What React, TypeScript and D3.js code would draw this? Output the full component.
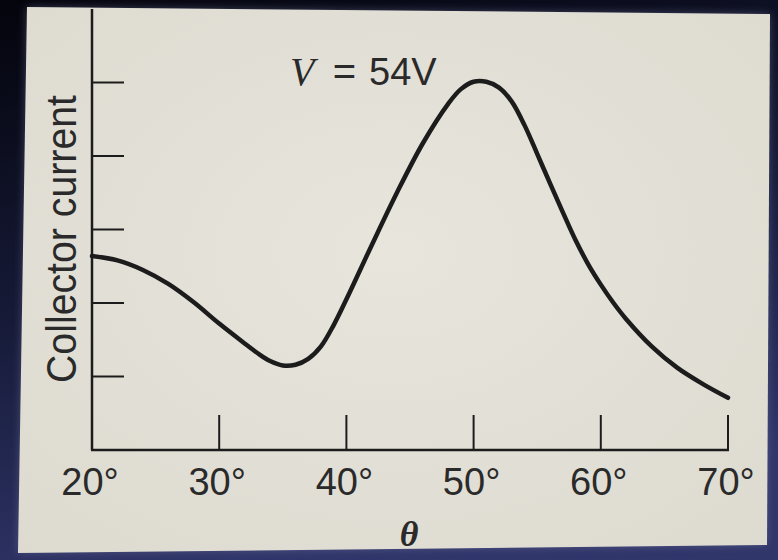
import React from "react";
import * as d3 from "d3";

const thetas = [20, 22, 24, 26, 28, 30, 32, 33, 34, 35, 36, 37, 38, 39, 40, 42, 44, 46, 48, 49, 50, 51, 52, 53, 54, 55, 56, 57, 58, 59, 60, 61, 62, 64, 66, 68, 70];
const current = [2.64, 2.58, 2.45, 2.26, 2.01, 1.72, 1.45, 1.32, 1.21, 1.15, 1.16, 1.24, 1.41, 1.7, 2.05, 2.79, 3.51, 4.17, 4.71, 4.91, 5.01, 5.01, 4.93, 4.74, 4.42, 4.03, 3.63, 3.24, 2.86, 2.53, 2.25, 2.0, 1.78, 1.41, 1.12, 0.9, 0.71];
const xTicks = [20, 30, 40, 50, 60, 70];
const xTickLabels = ["20°", "30°", "40°", "50°", "60°", "70°"];
const yTicks = [1, 2, 3, 4, 5];
const yLabel = "Collector current";
const annotation = ["V", "=", "54V"];
const xLabel = "θ";

export default function App() {
  const W = 778, H = 560;
  const x = d3.scaleLinear().domain([20, 70]).range([92, 728]);
  const y = d3.scaleLinear().domain([0, 6]).range([450, 9]);
  const line = d3
    .line<number>()
    .x((_, i) => x(thetas[i]))
    .y((d) => y(d))
    .curve(d3.curveCatmullRom.alpha(0.5));
  const ink = "#1c1c1c";
  const paper = "M27,7 L770,14 L767,545 L18,553 Z";
  return (
    <svg width={W} height={H} style={{ position: "absolute", left: 0, top: 0 }}>
      <defs>
        <linearGradient id="bg" x1="0" y1="0" x2="0.3" y2="1">
          <stop offset="0" stopColor="#04040c" />
          <stop offset="0.5" stopColor="#151935" />
          <stop offset="1" stopColor="#30356a" />
        </linearGradient>
        <radialGradient id="pp" cx="0.5" cy="0.45" r="0.75">
          <stop offset="0" stopColor="#e7e5dc" />
          <stop offset="1" stopColor="#dddad0" />
        </radialGradient>
        <filter id="glow" x="-10%" y="-10%" width="120%" height="120%">
          <feGaussianBlur stdDeviation="4" />
        </filter>
      </defs>
      <rect width={W} height={H} fill="url(#bg)" />
      <path d={paper} fill="#6f7398" opacity={0.5} filter="url(#glow)" />
      <path d={paper} fill="url(#pp)" />

      {/* axes */}
      <line x1={x(20)} x2={x(20)} y1={y(6)} y2={y(0)} stroke={ink} strokeWidth={2.5} />
      <line x1={x(20) - 1} x2={x(70) + 1} y1={y(0)} y2={y(0)} stroke={ink} strokeWidth={2.5} />
      {yTicks.map((t) => (
        <line key={t} x1={x(20)} x2={x(20) + 32} y1={y(t)} y2={y(t)} stroke={ink} strokeWidth={2} />
      ))}
      {xTicks.slice(1).map((t) => (
        <line key={t} x1={x(t)} x2={x(t)} y1={y(0)} y2={y(0) - 35} stroke={ink} strokeWidth={2} />
      ))}
      {xTicks.map((t, i) => (
        <text key={t} x={x(t) - 2} y={495} textAnchor="middle" fontFamily="Liberation Sans, Arial, sans-serif" fontSize={38} fill="#2a2a2a">
          {xTickLabels[i]}
        </text>
      ))}
      <text
        transform="translate(76,239) rotate(-90)"
        textAnchor="middle"
        fontFamily="Liberation Sans, Arial, sans-serif"
        fontSize={42}
        textLength={288}
        lengthAdjust="spacingAndGlyphs"
        fill="#2a2a2a"
      >
        {yLabel}
      </text>
      <text x={409} y={546} textAnchor="middle" fontFamily="Liberation Serif, serif" fontStyle="italic" fontWeight="bold" fontSize={36} fill="#2a2a2a">
        {xLabel}
      </text>

      {/* annotation */}
      <text x={290} y={85} fontFamily="Liberation Serif, serif" fontStyle="italic" fontSize={40} fill="#2a2a2a">
        {annotation[0]}
      </text>
      <text x={344.5} y={85} textAnchor="middle" fontFamily="Liberation Sans, Arial, sans-serif" fontSize={40} fill="#2a2a2a">
        {annotation[1]}
      </text>
      <text x={369} y={85} fontFamily="Liberation Sans, Arial, sans-serif" fontSize={38} fill="#2a2a2a">
        {annotation[2]}
      </text>

      <path d={line(current) || ""} fill="none" stroke={ink} strokeWidth={4.5} strokeLinecap="round" strokeLinejoin="round" />
    </svg>
  );
}
